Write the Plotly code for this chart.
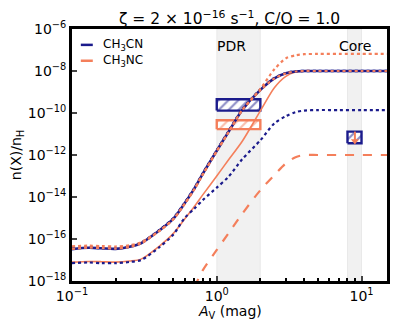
import plotly.graph_objects as go

# visual extinction grid (mag)
av = [0.1, 0.13, 0.16, 0.2, 0.25, 0.3, 0.4, 0.5, 0.6, 0.7, 0.8, 1.0, 1.2, 1.5,
      2.0, 2.5, 3.0, 3.5, 4.0, 5.0, 7.0, 10.0, 15.0]
av_dash = [0.7, 0.8, 1.0, 1.2, 1.5, 2.0, 2.5, 3.0, 3.5, 4.0, 5.0, 7.0, 10.0, 15.0]

# CH3CN abundances
ch3cn_solid = [3.3e-17, 3.8e-17, 3.6e-17, 3.4e-17, 4.3e-17, 6.3e-17, 2.5e-16, 9e-16,
               5e-15, 2.5e-14, 1.26e-13, 1.6e-12, 1.2e-11, 1.4e-10, 1.26e-9, 4.5e-9,
               7.8e-9, 9.5e-9, 1.0e-8, 1.0e-8, 1.0e-8, 1.0e-8, 1.0e-8]
ch3cn_dot_hi = [3.5e-17, 4.0e-17, 3.7e-17, 3.5e-17, 4.4e-17, 6.6e-17, 2.6e-16, 9.5e-16,
                5.2e-15, 2.6e-14, 1.3e-13, 1.65e-12, 1.25e-11, 1.45e-10, 1.3e-9, 4.6e-9,
                7.9e-9, 9.6e-9, 1.0e-8, 1.0e-8, 1.0e-8, 1.0e-8, 1.0e-8]
ch3cn_dot_lo = [7.1e-18, 7.6e-18, 7.1e-18, 7.1e-18, 8.1e-18, 1.0e-17, 4.0e-17, 1.6e-16,
                1.0e-15, 2.8e-15, 7.1e-15, 2.8e-14, 8.9e-14, 6.3e-13, 5.0e-12, 3.2e-11,
                7.1e-11, 1.1e-10, 1.3e-10, 1.38e-10, 1.38e-10, 1.38e-10, 1.38e-10]

# CH3NC abundances
ch3nc_solid = [7.9e-18, 8.5e-18, 8.3e-18, 7.9e-18, 8.9e-18, 1.1e-17, 4.5e-17, 1.8e-16,
               8.9e-16, 3.5e-15, 1.26e-14, 1.0e-13, 5.6e-13, 4.5e-12, 1.26e-10, 1.6e-9,
               5.6e-9, 8.9e-9, 1.0e-8, 1.0e-8, 1.0e-8, 1.0e-8, 1.0e-8]
ch3nc_dot_hi = [4.5e-17, 4.8e-17, 4.6e-17, 4.4e-17, 5.0e-17, 7.0e-17, 2.4e-16, 8.5e-16,
                4.6e-15, 2.3e-14, 1.15e-13, 1.5e-12, 1.15e-11, 1.4e-10, 1.4e-9, 1.2e-8,
                4.0e-8, 5.6e-8, 6.3e-8, 6.5e-8, 6.5e-8, 6.5e-8, 6.5e-8]
ch3nc_dot_mid = [3.4e-17, 3.9e-17, 3.7e-17, 3.5e-17, 4.2e-17, 6.2e-17, 2.4e-16, 8.8e-16,
                 4.8e-15, 2.4e-14, 1.2e-13, 1.55e-12, 1.15e-11, 1.35e-10, 1.2e-9, 4.4e-9,
                 7.7e-9, 9.5e-9, 1.0e-8, 1.0e-8, 1.0e-8, 1.0e-8, 1.0e-8]
ch3nc_dash = [5e-19, 3.2e-18, 3.0e-17, 1.8e-16, 1.6e-15, 2.1e-14, 1.1e-13, 4.0e-13,
              7.9e-13, 1.0e-12, 1.0e-12, 1.0e-12, 1.0e-12, 1.0e-12]

# observations (boxes) : [av_lo, av_hi], [n_lo, n_hi]
pdr_av = [1.0, 2.0]
core_av = [8.0, 10.0]
obs_ch3cn_pdr = [1.3e-10, 4.5e-10]
obs_ch3nc_pdr = [1.7e-11, 4.5e-11]
obs_ch3cn_core = [3.6e-12, 1.3e-11]
ch3nc_core_limit = [1.3e-11, 4.6e-12]
core_limit_av = [9.0, 9.0]

blue = "#1b1b8c"
orange = "#f47f5b"
font = "DejaVu Sans"

fig = go.Figure()

# shaded PDR / core ranges
for xr in [pdr_av, core_av]:
    fig.add_shape(type="rect", xref="x", yref="paper", x0=xr[0], x1=xr[1], y0=0, y1=1,
                  fillcolor="rgba(128,128,128,0.11)", line=dict(color="rgba(128,128,128,0.12)", width=1),
                  layer="below")


def box(xr, yr, col):
    return go.Scatter(x=[xr[0], xr[1], xr[1], xr[0], xr[0]],
                      y=[yr[0], yr[0], yr[1], yr[1], yr[0]],
                      mode="lines", fill="toself", fillcolor="white",
                      fillpattern=dict(shape="/", fgcolor=col, bgcolor="white", size=7, solidity=0.3),
                      line=dict(color=col, width=2.4), showlegend=False, hoverinfo="skip")


fig.add_trace(box(pdr_av, obs_ch3cn_pdr, blue))
fig.add_trace(box(pdr_av, obs_ch3nc_pdr, orange))
fig.add_trace(box(core_av, obs_ch3cn_core, blue))

# upper limit arrow in core
fig.add_trace(go.Scatter(x=core_limit_av, y=ch3nc_core_limit, mode="lines",
                         line=dict(color=orange, width=2), showlegend=False))
fig.add_trace(go.Scatter(x=core_limit_av[1:], y=ch3nc_core_limit[1:], mode="markers",
                         marker=dict(symbol="triangle-down", size=7, color=orange),
                         showlegend=False))

sp = dict(shape="spline", smoothing=0.8)
fig.add_trace(go.Scatter(x=av, y=ch3nc_solid, mode="lines", line=dict(color=orange, width=1.6, **sp)))
fig.add_trace(go.Scatter(x=av, y=ch3cn_dot_lo, mode="lines", line=dict(color=blue, width=2.2, dash="dot", **sp)))
fig.add_trace(go.Scatter(x=av_dash, y=ch3nc_dash, mode="lines", line=dict(color=orange, width=2.2, dash="dash", **sp)))
fig.add_trace(go.Scatter(x=av, y=ch3cn_solid, mode="lines", line=dict(color=blue, width=2.6, **sp)))
fig.add_trace(go.Scatter(x=av, y=ch3cn_dot_hi, mode="lines", line=dict(color=blue, width=2.6, dash="dot", **sp)))
fig.add_trace(go.Scatter(x=av, y=ch3nc_dot_hi, mode="lines", line=dict(color=orange, width=2.2, dash="dot", **sp)))
fig.add_trace(go.Scatter(x=av, y=ch3nc_dot_mid, mode="lines", line=dict(color=orange, width=2.2, dash="dot", **sp)))

# legend drawn by hand (short matplotlib-like handles)
legend_items = [("CH<sub>3</sub>CN", blue), ("CH<sub>3</sub>NC", orange)]
for i, (lab, col) in enumerate(legend_items):
    yy = 0.937 - i * 0.063
    fig.add_shape(type="line", xref="paper", yref="paper", x0=0.028, x1=0.066, y0=yy, y1=yy,
                  line=dict(color=col, width=2.5))
    fig.add_annotation(xref="paper", yref="paper", x=0.092, y=yy, text=lab, showarrow=False,
                       xanchor="left", yanchor="middle", font=dict(size=12, color="black", family=font))

fig.add_annotation(xref="paper", yref="paper", x=0.505, y=0.933, text="PDR", showarrow=False,
                   xanchor="center", yanchor="middle", font=dict(size=14, color="black", family=font))
fig.add_annotation(xref="paper", yref="paper", x=0.897, y=0.933, text="Core", showarrow=False,
                   xanchor="center", yanchor="middle", font=dict(size=14, color="black", family=font))
# x axis label
fig.add_annotation(xref="paper", yref="paper", x=0.5, y=-0.123, text="<i>A</i><sub>V</sub> (mag)",
                   showarrow=False, xanchor="center", yanchor="middle",
                   font=dict(size=14, color="black", family=font))

x_ticks = [0.1, 1, 10]
x_ticktext = ["10<sup>−1</sup>", "10<sup>0</sup>", "10<sup>1</sup>"]
x_minor = [0.2, 0.3, 0.4, 0.5, 0.6, 0.7, 0.8, 0.9, 2, 3, 4, 5, 6, 7, 8, 9]
y_ticks = [1e-18, 1e-16, 1e-14, 1e-12, 1e-10, 1e-8, 1e-6]
y_ticktext = ["10<sup>−18</sup>", "10<sup>−16</sup>", "10<sup>−14</sup>", "10<sup>−12</sup>",
              "10<sup>−10</sup>", "10<sup>−8</sup>", "10<sup>−6</sup>"]

# the page body keeps its default 8px margin, so the figure is 8px smaller
fig.update_layout(
    width=391, height=321,
    margin=dict(l=64, r=12, t=21, b=48, autoexpand=False),
    plot_bgcolor="white", paper_bgcolor="white",
    showlegend=False,
    font=dict(family=font, size=14, color="black"),
    title=dict(text="ζ = 2 × 10<sup>−16</sup> s<sup>−1</sup>, C/O = 1.0",
               x=0.5, xref="paper", y=0.966, yanchor="middle", font=dict(size=15.5)),
    xaxis=dict(type="log", range=[-1, 1.176], tickvals=x_ticks, ticktext=x_ticktext,
               ticks="inside", ticklen=5, tickwidth=1.5, showgrid=False, zeroline=False,
               showline=True, linewidth=2.8, linecolor="black", mirror=True, automargin=False,
               minor=dict(tickvals=x_minor, ticks="inside", ticklen=3, tickcolor="black")),
    yaxis=dict(type="log", range=[-18, -6], tickvals=y_ticks, ticktext=y_ticktext,
               ticks="inside", ticklen=5, tickwidth=1.5, showgrid=False, zeroline=False,
               showline=True, linewidth=2.8, linecolor="black", mirror=True, automargin=False,
               title=dict(text="n(X)/n<sub>H</sub>", standoff=6, font=dict(size=14))),
)

fig.write_html("out.html")
